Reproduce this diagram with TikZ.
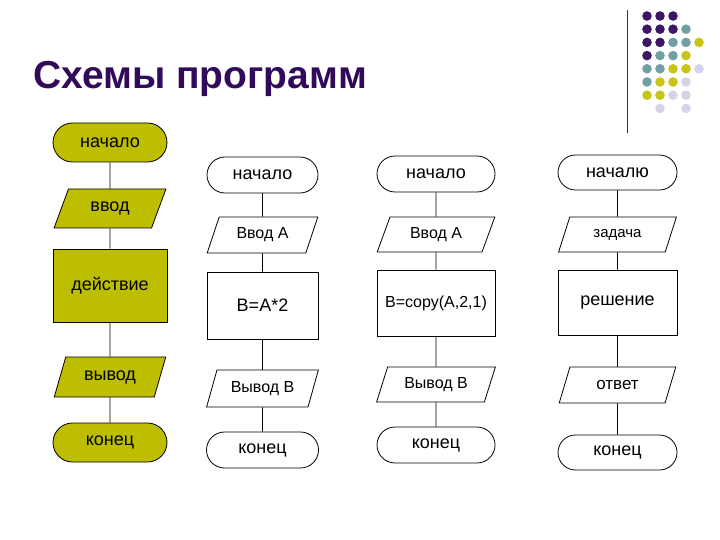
\documentclass[tikz,border=0pt]{standalone}
\usepackage{fontspec}
\setmainfont{Liberation Sans}
\usetikzlibrary{shapes.geometric,shapes.misc}
\definecolor{schemeolive}{RGB}{190,190,0}
\definecolor{titlepurple}{RGB}{50,10,90}
\definecolor{dotP}{RGB}{62,22,104}
\definecolor{dotT}{RGB}{112,160,165}
\definecolor{dotY}{RGB}{200,196,24}
\definecolor{dotL}{RGB}{212,212,232}
\tikzset{
  box/.style={draw,line width=0.8pt,inner sep=0pt,font=\fontsize{18}{20}\selectfont},
  term/.style={box,rounded rectangle},
  io/.style={box,trapezium,trapezium left angle=63,trapezium right angle=117,trapezium stretches=true},
  proc/.style={box,rectangle},
  filled/.style={fill=schemeolive},
  smalltext/.style={font=\fontsize{16}{18}\selectfont},
  link/.style={line width=0.8pt}
}
\begin{document}
\begin{tikzpicture}[x=1pt,y=-1pt]
  \useasboundingbox (0,0) rectangle (720,540);
  % title and corner ornament
  \node[anchor=base west,inner sep=0pt,text=titlepurple,font=\fontsize{39}{44}\selectfont\bfseries] (title) at (33,89) {Схемы программ};
  \draw[line width=1.2pt,black!80] (627.5,10) -- (627.5,133);
  \foreach \c/\r/\col in {0/0/dotP,1/0/dotP,2/0/dotP,
      0/1/dotP,1/1/dotP,2/1/dotP,3/1/dotT,
      0/2/dotP,1/2/dotP,2/2/dotT,3/2/dotT,4/2/dotY,
      0/3/dotP,1/3/dotT,2/3/dotT,3/3/dotY,
      0/4/dotT,1/4/dotT,2/4/dotY,3/4/dotY,4/4/dotL,
      0/5/dotT,1/5/dotY,2/5/dotY,3/5/dotL,
      0/6/dotY,1/6/dotY,2/6/dotL,3/6/dotL,
      1/7/dotL,3/7/dotL}
    \fill[\col] (647+13*\c,16+13.2*\r) circle (4.8pt);

  % legend column
  \node[term,filled,minimum width=114pt,minimum height=39pt] (lstart) at (110,142.5) {начало};
  \node[io,filled,minimum width=112pt,minimum height=39pt] (lin) at (110,208.5) {ввод};
  \node[proc,filled,minimum width=114pt,minimum height=73pt] (ldo) at (110,285.5) {действие};
  \node[io,filled,minimum width=112pt,minimum height=40pt] (lout) at (110,377) {вывод};
  \node[term,filled,minimum width=114pt,minimum height=39pt] (lend) at (110,442.5) {конец};
  \draw[link] (lstart) -- (lin);
  \draw[link] (lin) -- (ldo);
  \draw[link] (ldo) -- (lout);
  \draw[link] (lout) -- (lend);

  % first program
  \node[term,minimum width=111pt,minimum height=36pt] (astart) at (262.5,175) {начало};
  \node[io,smalltext,minimum width=111pt,minimum height=36pt] (ain) at (262.5,235) {Ввод А};
  \node[proc,minimum width=111pt,minimum height=67pt] (ado) at (262.5,305.5) {B=A*2};
  \node[io,smalltext,minimum width=112pt,minimum height=37pt] (aout) at (262.5,388.5) {Вывод B};
  \node[term,minimum width=112pt,minimum height=36pt] (aend) at (262.5,450) {конец};
  \draw[link] (astart) -- (ain);
  \draw[link] (ain) -- (ado);
  \draw[link] (ado) -- (aout);
  \draw[link] (aout) -- (aend);

  % second program
  \node[term,minimum width=118pt,minimum height=36pt] (bstart) at (436,174) {начало};
  \node[io,smalltext,minimum width=118pt,minimum height=35pt] (bin) at (436,234.5) {Ввод А};
  \node[proc,smalltext,minimum width=118pt,minimum height=66pt] (bdo) at (436,303) {B=copy(A,2,1)};
  \node[io,smalltext,minimum width=119pt,minimum height=35pt] (bout) at (436,384.5) {Вывод B};
  \node[term,minimum width=118pt,minimum height=36pt] (bend) at (436,445) {конец};
  \draw[link] (bstart) -- (bin);
  \draw[link] (bin) -- (bdo);
  \draw[link] (bdo) -- (bout);
  \draw[link] (bout) -- (bend);

  % general scheme
  \node[term,minimum width=119pt,minimum height=35pt] (cstart) at (617.5,172.5) {началю};
  \node[io,font=\fontsize{15}{17}\selectfont,minimum width=118pt,minimum height=35pt] (cin) at (617.5,234.5) {задача};
  \node[proc,minimum width=119pt,minimum height=65pt] (cdo) at (617.5,302.5) {решение};
  \node[io,font=\fontsize{17}{19}\selectfont,minimum width=117pt,minimum height=36pt] (cout) at (617.5,385) {ответ};
  \node[term,minimum width=119pt,minimum height=35pt] (cend) at (617.5,452.5) {конец};
  \draw[link] (cstart) -- (cin);
  \draw[link] (cin) -- (cdo);
  \draw[link] (cdo) -- (cout);
  \draw[link] (cout) -- (cend);
\end{tikzpicture}
\end{document}
